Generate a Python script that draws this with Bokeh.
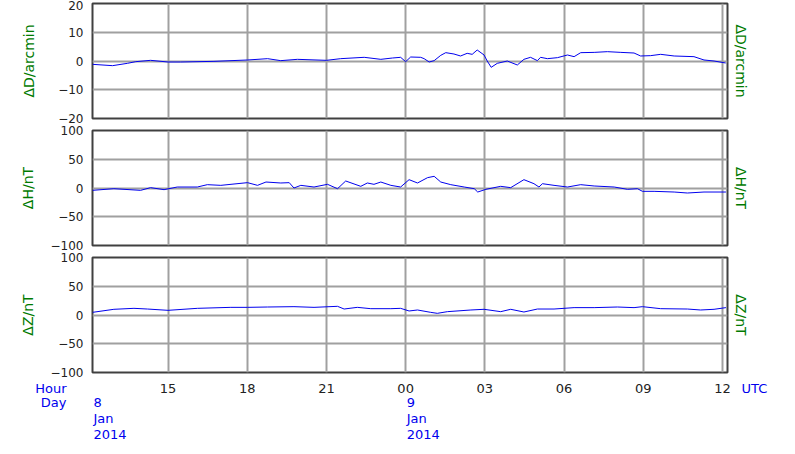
from bokeh.plotting import figure
from bokeh.layouts import column
from bokeh.models import Range1d, FixedTicker, LinearAxis
from bokeh.core.properties import value
from bokeh.embed import file_html
from bokeh.resources import INLINE

# ---- data (hours since 2014-01-08 00:00 UTC) ----
d_hours = [12.14, 12.9, 13.46, 13.78, 14.34, 15.0, 15.48, 16.74, 18.01, 18.77, 19.27, 19.9, 21.0, 21.54,
           22.43, 23.06, 23.5, 23.81, 24.0, 24.19, 24.57, 24.7, 24.89, 25.08, 25.33, 25.52, 25.83, 26.08,
           26.33, 26.52, 26.71, 26.97, 27.09, 27.24, 27.47, 27.85, 28.23, 28.48, 28.73, 28.99, 29.11, 29.37,
           29.75, 30.13, 30.38, 30.63, 31.14, 31.64, 32.15, 32.65, 32.9, 33.28, 33.66, 34.17, 34.92, 35.3,
           35.68, 36.12]
d_vals = [-1.16, -1.62, -0.81, -0.23, 0.23, -0.35, -0.35, -0.12, 0.35, 0.81, 0.12, 0.58, 0.23, 0.81,
          1.28, 0.58, 1.04, 1.28, -0.23, 1.39, 1.28, 0.81, -0.35, 0.12, 1.97, 2.9, 2.43, 1.74,
          2.67, 2.32, 3.83, 2.09, 0.0, -2.2, -0.81, 0.0, -1.39, 0.58, 1.28, 0.12, 1.28, 0.81,
          1.16, 2.09, 1.51, 2.9, 3.0, 3.25, 3.0, 2.78, 1.74, 1.86, 2.32, 1.74, 1.51, 0.35,
          0.0, -0.7]

h_hours = [12.14, 12.95, 13.96, 14.34, 14.85, 15.35, 16.11, 16.49, 17.0, 18.01, 18.39, 18.71, 19.27, 19.59,
           19.77, 20.03, 20.53, 21.04, 21.42, 21.73, 22.3, 22.55, 22.8, 23.06, 23.44, 23.81, 24.13, 24.45,
           24.83, 25.08, 25.33, 25.71, 26.22, 26.6, 26.73, 27.04, 27.6, 27.98, 28.48, 28.86, 29.05, 29.18,
           29.62, 30.13, 30.63, 31.14, 31.9, 32.4, 32.78, 32.97, 33.41, 34.17, 34.67, 35.3, 36.13]
h_vals = [-4.1, -1.2, -4.1, 0.6, -2.9, 1.7, 1.7, 5.8, 4.6, 9.3, 4.6, 10.4, 8.7, 9.3,
          0.0, 4.6, 1.7, 6.4, -1.2, 12.2, 2.9, 8.7, 6.4, 10.4, 4.6, 1.7, 14.5, 8.7,
          18.0, 20.3, 10.4, 5.8, 1.7, -1.2, -7.0, -2.3, 2.9, 0.6, 14.5, 7.5, 1.7, 7.5,
          4.6, 1.7, 5.8, 3.5, 1.7, -2.3, -1.2, -5.8, -5.8, -7.0, -8.7, -7.0, -7.0]

z_hours = [12.14, 12.95, 13.71, 14.22, 15.0, 16.11, 17.38, 18.01, 18.77, 19.77, 20.53, 21.42, 21.67, 22.17,
           22.68, 23.44, 23.81, 24.13, 24.45, 24.95, 25.2, 25.58, 26.47, 26.97, 27.6, 27.98, 28.48, 28.99,
           29.62, 30.38, 31.14, 32.02, 32.65, 32.97, 33.66, 34.67, 35.17, 35.68, 36.13]
z_vals = [4.6, 9.9, 11.6, 10.4, 8.1, 11.6, 13.3, 13.3, 13.9, 14.5, 13.3, 15.1, 10.4, 13.3,
          11.0, 11.0, 11.6, 7.0, 8.7, 4.6, 2.9, 5.8, 8.7, 9.9, 5.8, 9.9, 5.2, 10.4,
          10.4, 12.8, 12.8, 13.9, 12.8, 14.5, 11.0, 10.4, 8.7, 9.9, 12.8]

x_start, x_end = 12.14, 36.19
hour_ticks = [15, 18, 21, 24, 27, 30, 33, 36]
hour_labels = ["15", "18", "21", "00", "03", "06", "09", "12"]
day_starts = [12.14, 24.0]
day_lines = [["8", "Jan", "2014"], ["9", "Jan", "2014"]]
left_captions = {16: "Hour", 30: "Day"}
right_captions = {16: "UTC"}

panels = [
    ("ΔD/arcmin", d_hours, d_vals, (-20, 20), [-20, -10, 0, 10, 20], 18),
    ("ΔH/nT", h_hours, h_vals, (-100, 100), [-100, -50, 0, 50, 100], 12),
    ("ΔZ/nT", z_hours, z_vals, (-100, 100), [-100, -50, 0, 50, 100], 12),
]

FONT = "DejaVu Sans"
GREEN = "#007a00"
BLUE = "#0000ee"
GRID = "#a0a0a0"
FRAME_W, FRAME_H = 635, 115
LEFT = 92
TOTAL_W = 794
RIGHT = TOTAL_W - LEFT - FRAME_W

figs = []
for i, (title, xs, ys, yr, yticks, lab_standoff) in enumerate(panels):
    last = (i == len(panels) - 1)
    p = figure(frame_width=FRAME_W, frame_height=FRAME_H,
               x_range=Range1d(x_start, x_end), y_range=Range1d(*yr),
               x_axis_location=None,
               output_backend="svg", toolbar_location=None, tools="",
               min_border_left=LEFT, min_border_right=RIGHT,
               min_border_top=3 if i == 0 else 5,
               min_border_bottom=8 if last else 7)
    p.outline_line_color = "#404040"
    p.outline_line_width = 2
    p.background_fill_color = "white"
    p.border_fill_color = "white"

    p.xgrid.ticker = FixedTicker(ticks=hour_ticks)
    p.xgrid.grid_line_color = GRID
    p.xgrid.grid_line_width = 2
    p.ygrid.grid_line_color = GRID
    p.ygrid.grid_line_width = 2

    ya = p.yaxis[0]
    ya.ticker = FixedTicker(ticks=yticks)
    ya.major_label_overrides = {t: (str(t) if t >= 0 else "\u2212" + str(-t)) for t in yticks}
    ya.major_tick_out = 0
    ya.major_tick_in = 0
    ya.minor_tick_out = 0
    ya.minor_tick_in = 0
    ya.axis_line_color = None
    ya.major_label_standoff = 9
    ya.major_label_text_font = FONT
    ya.major_label_text_font_size = "12px"
    ya.major_label_text_color = "#222222"
    ya.axis_label = title
    ya.axis_label_text_font = FONT
    ya.axis_label_text_font_size = "14px"
    ya.axis_label_text_font_style = "normal"
    ya.axis_label_text_color = GREEN
    ya.axis_label_standoff = lab_standoff

    ra = LinearAxis(ticker=FixedTicker(ticks=[]), axis_label=title)
    ra.axis_line_color = None
    ra.major_tick_out = 0
    ra.minor_tick_out = 0
    ra.axis_label_text_font = FONT
    ra.axis_label_text_font_size = "14px"
    ra.axis_label_text_font_style = "normal"
    ra.axis_label_text_color = GREEN
    ra.axis_label_standoff = 5
    p.add_layout(ra, "right")

    p.line(xs, ys, line_color=BLUE, line_width=1)
    figs.append(p)

# ---- time-axis strip below the panels (same hour scale, a little wider on the right) ----
k = (x_end - x_start) / FRAME_W          # hours per pixel
EXTRA = 8                                # room for the last hour label
strip_top, strip_bot = 8, 81             # y = pixels below the bottom panel frame
q = figure(frame_width=FRAME_W + EXTRA, frame_height=strip_bot - strip_top,
           x_range=Range1d(x_start, x_end + EXTRA * k),
           y_range=Range1d(strip_bot, strip_top),
           x_axis_location=None, y_axis_location="left",
           output_backend="svg", toolbar_location=None, tools="",
           min_border_left=LEFT, min_border_right=RIGHT - EXTRA, min_border_top=0, min_border_bottom=0)
q.outline_line_color = None
q.xgrid.visible = False
q.ygrid.visible = False
q.border_fill_color = "white"
q.background_fill_color = "white"


def caption_axis(ax, captions, standoff):
    ax.ticker = FixedTicker(ticks=list(captions.keys()))
    ax.major_label_overrides = captions
    ax.major_tick_out = 0
    ax.major_tick_in = 0
    ax.minor_tick_out = 0
    ax.minor_tick_in = 0
    ax.axis_line_color = None
    ax.major_label_standoff = standoff
    ax.major_label_text_font = FONT
    ax.major_label_text_font_size = "13px"
    ax.major_label_text_color = BLUE


caption_axis(q.yaxis[0], left_captions, 26)
ur = LinearAxis()
caption_axis(ur, right_captions, 14 - EXTRA)
q.add_layout(ur, "right")

# hour tick labels
q.text(x=hour_ticks, y=[16] * len(hour_ticks), text=hour_labels,
       text_font=value(FONT), text_font_size=value("13px"), text_color="#222222",
       text_align="center", text_baseline="middle")
# day / month / year
dx, dy, dt = [], [], []
for xs0, lines in zip(day_starts, day_lines):
    for j, t in enumerate(lines):
        dx.append(xs0)
        dy.append(30 + 16 * j)
        dt.append(t)
q.text(x=dx, y=dy, text=dt, x_offset=1,
       text_font=value(FONT), text_font_size=value("13px"), text_color=BLUE,
       text_align="left", text_baseline="middle")
figs.append(q)

layout = column(*figs)
open("out.html", "w").write(file_html(layout, INLINE))
